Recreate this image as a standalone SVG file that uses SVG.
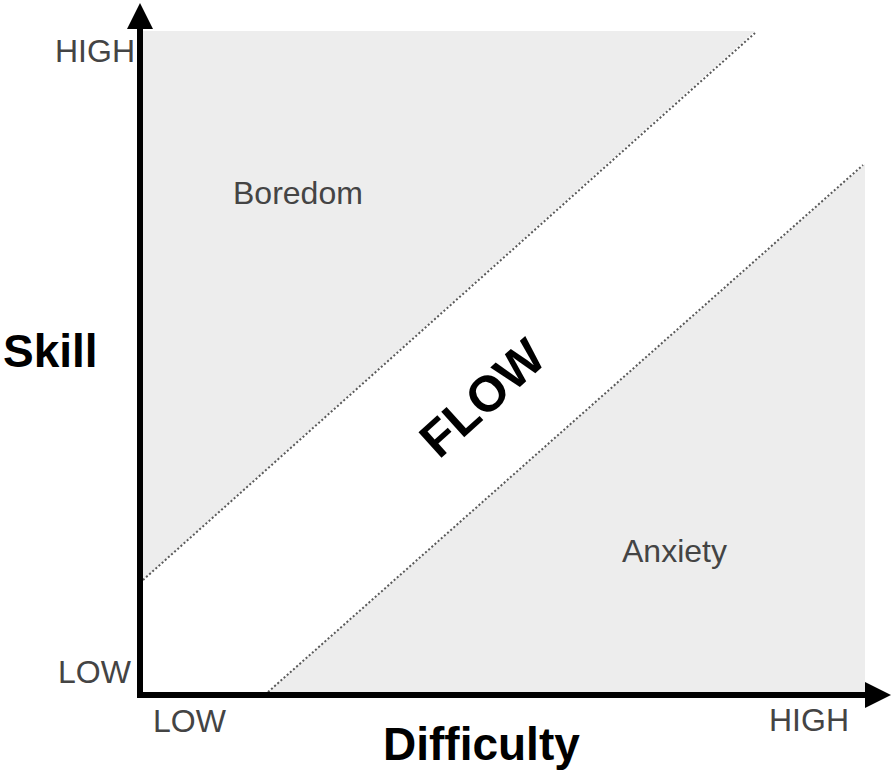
<svg xmlns="http://www.w3.org/2000/svg" width="892" height="772" viewBox="0 0 892 772">
<style>
.zone{fill:#ededed;stroke:none}
.div{stroke:#5a5a5a;stroke-width:2;stroke-dasharray:2 2.2;fill:none}
.axis{stroke:#000;stroke-width:6;fill:none}
.head{fill:#000}
.lbl{font-family:"Liberation Sans",Arial,sans-serif;font-size:32px;fill:#444}
.title{font-family:"Liberation Sans",Arial,sans-serif;font-weight:bold;fill:#000}
</style>
<rect width="892" height="772" fill="#fff"/>
<g id="boredom-zone">
<polygon class="zone" points="143,31 755,31 143,580"/>
<text class="lbl" x="233" y="204">Boredom</text>
</g>
<g id="anxiety-zone">
<polygon class="zone" points="268,692 865,164 865,692"/>
<text class="lbl" x="622" y="562">Anxiety</text>
</g>
<g id="flow-zone">
<text class="title" x="439" y="460" font-size="50" transform="rotate(-42 439 460)">FLOW</text>
</g>
<g id="connectors">
<line class="div" x1="143" y1="580" x2="755" y2="33"/>
<line class="div" x1="268" y1="692" x2="863" y2="165"/>
<line class="axis" x1="140" y1="26" x2="140" y2="695"/>
<line class="axis" x1="137" y1="695" x2="867" y2="695"/>
<polygon class="head" points="140,3 127,29 153,29"/>
<polygon class="head" points="891,695 865,682 865,708"/>
</g>
<g id="axis-labels">
<text class="lbl" x="55" y="62">HIGH</text>
<text class="lbl" x="58" y="683">LOW</text>
<text class="lbl" x="153" y="732">LOW</text>
<text class="lbl" x="769" y="731">HIGH</text>
<text class="title" x="3" y="367" font-size="46">Skill</text>
<text class="title" x="383" y="760" font-size="46">Difficulty</text>
</g>
</svg>
